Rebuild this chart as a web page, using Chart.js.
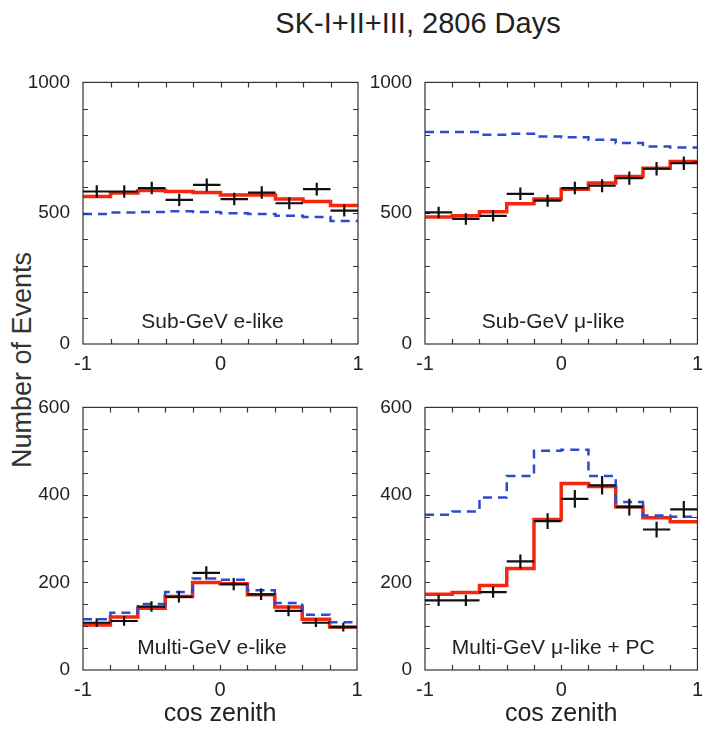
<!DOCTYPE html>
<html>
<head>
<meta charset="utf-8">
<script src="https://cdn.jsdelivr.net/npm/chart.js@4.4.1/dist/chart.umd.min.js"></script>
<style>
body { margin: 0; background: #fff; width: 703px; height: 731px; position: relative; overflow: hidden;
       font-family: "Liberation Sans", Arial, sans-serif; color: #222; }
canvas { position: absolute; }
#title { position: absolute; left: 168px; top: 7px; width: 500px; text-align: center; font-size: 29px; }
#ylab { position: absolute; left: -128px; top: 345px; width: 300px; line-height: 30px; text-align: center;
        font-size: 27px; color: #333; transform: rotate(-90deg); }
</style>
</head>
<body>
<div id="title">SK-I+II+III, 2806 Days</div>
<div id="ylab">Number of Events</div>
<canvas id="c1" width="370" height="314" style="left:0;top:66px"></canvas>
<canvas id="c2" width="363" height="314" style="left:340px;top:66px"></canvas>
<canvas id="c3" width="370" height="340" style="left:0;top:391px"></canvas>
<canvas id="c4" width="363" height="340" style="left:340px;top:391px"></canvas>
<script>
const FONT = '"Liberation Sans", Arial, sans-serif';

// cos(zenith) bin edges, 10 bins
const binEdges = [-1, -0.8, -0.6, -0.4, -0.2, 0, 0.2, 0.4, 0.6, 0.8, 1];
const xLabels = [-1, 0, 1];

// Sub-GeV e-like
const subE_data  = [583, 583, 596, 551, 608, 554, 579, 538, 592, 510];
const subE_err   = [24, 24, 24, 23, 25, 24, 24, 23, 24, 23];
const subE_fit   = [564, 577, 587, 583, 579, 570, 570, 554, 545, 529];
const subE_noosc = [497, 503, 505, 507, 505, 500, 497, 490, 485, 470];

// Sub-GeV mu-like
const subMu_data  = [503, 478, 490, 574, 548, 596, 605, 634, 670, 691];
const subMu_err   = [22, 22, 22, 24, 23, 24, 25, 25, 26, 26];
const subMu_fit   = [485, 490, 506, 536, 554, 592, 615, 640, 672, 698];
const subMu_noosc = [810, 810, 800, 804, 793, 790, 781, 768, 755, 751];

// Multi-GeV e-like
const mulE_data  = [108, 112, 145, 167, 222, 196, 173, 135, 108, 98];
const mulE_err   = [10, 11, 12, 13, 15, 14, 13, 12, 10, 10];
const mulE_fit   = [103, 121, 141, 168, 200, 197, 172, 144, 116, 98];
const mulE_noosc = [116, 131, 151, 178, 209, 206, 182, 153, 126, 109];

// Multi-GeV mu-like + PC
const mulMu_data  = [159, 159, 178, 248, 340, 391, 422, 372, 321, 367];
const mulMu_err   = [13, 13, 13, 16, 18, 20, 21, 19, 18, 19];
const mulMu_fit   = [173, 177, 193, 232, 344, 426, 419, 373, 348, 339];
const mulMu_noosc = [355, 362, 394, 443, 501, 503, 443, 384, 353, 350];

const RED = 'rgb(245,40,15)';
const BLUE = 'rgb(45,75,205)';

function stepPoints(vals) {
  const pts = vals.map((v, i) => ({ x: binEdges[i], y: v }));
  pts.push({ x: binEdges[binEdges.length - 1], y: vals[vals.length - 1] });
  return pts;
}

function centerPoints(vals) {
  return vals.map((v, i) => ({ x: (binEdges[i] + binEdges[i + 1]) / 2, y: v }));
}

// full box with inward ticks on all four sides
const framePlugin = {
  id: 'frame',
  afterDatasetsDraw(chart) {
    const { ctx, chartArea: a, scales } = chart;
    ctx.save();
    ctx.strokeStyle = '#333';
    ctx.lineWidth = 1.2;
    ctx.strokeRect(a.left, a.top, a.right - a.left, a.bottom - a.top);
    const tl = 5;
    ctx.beginPath();
    scales.x.ticks.forEach(t => {
      const px = Math.round(scales.x.getPixelForValue(t.value)) + 0.5;
      if (px <= a.left + 1 || px >= a.right - 1) return;
      ctx.moveTo(px, a.bottom); ctx.lineTo(px, a.bottom - tl);
      ctx.moveTo(px, a.top); ctx.lineTo(px, a.top + tl);
    });
    scales.y.ticks.forEach(t => {
      const py = Math.round(scales.y.getPixelForValue(t.value)) + 0.5;
      if (py <= a.top + 1 || py >= a.bottom - 1) return;
      ctx.moveTo(a.left, py); ctx.lineTo(a.left + tl, py);
      ctx.moveTo(a.right, py); ctx.lineTo(a.right - tl, py);
    });
    ctx.stroke();
    ctx.restore();
  }
};

// data crosses: horizontal bar = bin width, vertical bar = stat error
const errPlugin = {
  id: 'errbars',
  afterDatasetsDraw(chart) {
    const { ctx, scales } = chart;
    chart.data.datasets.forEach(ds => {
      if (!ds.errors) return;
      ctx.save();
      ctx.strokeStyle = '#111';
      ctx.lineWidth = 2.2;
      ctx.beginPath();
      ds.data.forEach((p, i) => {
        const x0 = scales.x.getPixelForValue(binEdges[i]);
        const x1 = scales.x.getPixelForValue(binEdges[i + 1]);
        const xc = scales.x.getPixelForValue(p.x);
        const y = scales.y.getPixelForValue(p.y);
        const yt = scales.y.getPixelForValue(p.y + ds.errors[i]);
        const yb = scales.y.getPixelForValue(p.y - ds.errors[i]);
        ctx.moveTo(x0, y); ctx.lineTo(x1, y);
        ctx.moveTo(xc, yt); ctx.lineTo(xc, yb);
      });
      ctx.stroke();
      ctx.restore();
    });
  }
};

const labelPlugin = {
  id: 'panelLabel',
  afterDraw(chart, args, opts) {
    const { ctx, chartArea: a } = chart;
    ctx.save();
    ctx.font = '21px ' + FONT;
    ctx.fillStyle = '#222';
    ctx.textAlign = 'center';
    ctx.textBaseline = 'middle';
    ctx.fillText(opts.text, (a.left + a.right) / 2 - 8, a.bottom - 22);
    ctx.restore();
  }
};

function makePanel(id, cfg) {
  new Chart(document.getElementById(id), {
    type: 'line',
    data: {
      datasets: [
        { data: stepPoints(cfg.noosc), borderColor: BLUE, borderWidth: 2.5, borderDash: [9, 6],
          stepped: 'before', pointRadius: 0, fill: false },
        { data: stepPoints(cfg.fit), borderColor: RED, borderWidth: 3.5,
          stepped: 'before', pointRadius: 0, fill: false },
        { data: centerPoints(cfg.data), errors: cfg.err, showLine: false, pointRadius: 0 }
      ]
    },
    options: {
      responsive: false,
      animation: false,
      layout: { padding: { top: 6, right: cfg.padRight, left: 0, bottom: 0 } },
      plugins: {
        legend: { display: false },
        tooltip: { enabled: false },
        panelLabel: { text: cfg.label }
      },
      scales: {
        x: {
          type: 'linear', min: -1, max: 1,
          grid: { display: false }, border: { display: false },
          ticks: {
            stepSize: 0.2, autoSkip: false, maxRotation: 0, padding: 0, color: '#222',
            font: { size: 20, family: FONT },
            callback: v => xLabels.some(l => Math.abs(l - v) < 1e-6) ? String(Math.round(v)) : ''
          },
          title: { display: cfg.xTitle, text: 'cos zenith', color: '#222',
                   font: { size: 25, family: FONT }, padding: { top: 0, bottom: 2 } },
          afterFit(s) { s.height = cfg.xH; }
        },
        y: {
          min: 0, max: cfg.yMax,
          grid: { display: false }, border: { display: false },
          ticks: {
            stepSize: cfg.yStep, autoSkip: false, padding: 5, color: '#222',
            font: { size: 19, family: FONT },
            callback: v => cfg.yLabels.includes(v) ? String(v) : ''
          },
          afterFit(s) { s.width = cfg.yW; }
        }
      }
    },
    plugins: [framePlugin, errPlugin, labelPlugin]
  });
}

makePanel('c1', { data: subE_data, err: subE_err, fit: subE_fit, noosc: subE_noosc,
  label: 'Sub-GeV e-like', yMax: 1000, yStep: 100, yLabels: [0, 500, 1000],
  yW: 83, padRight: 12, xH: 36, xTitle: false });
makePanel('c2', { data: subMu_data, err: subMu_err, fit: subMu_fit, noosc: subMu_noosc,
  label: 'Sub-GeV \u03bc-like', yMax: 1000, yStep: 100, yLabels: [0, 500, 1000],
  yW: 85, padRight: 5, xH: 36, xTitle: false });
makePanel('c3', { data: mulE_data, err: mulE_err, fit: mulE_fit, noosc: mulE_noosc,
  label: 'Multi-GeV e-like', yMax: 600, yStep: 50, yLabels: [0, 200, 400, 600],
  yW: 83, padRight: 13, xH: 61, xTitle: true });
makePanel('c4', { data: mulMu_data, err: mulMu_err, fit: mulMu_fit, noosc: mulMu_noosc,
  label: 'Multi-GeV \u03bc-like + PC', yMax: 600, yStep: 50, yLabels: [0, 200, 400, 600],
  yW: 85, padRight: 5, xH: 61, xTitle: true });
</script>
</body>
</html>
